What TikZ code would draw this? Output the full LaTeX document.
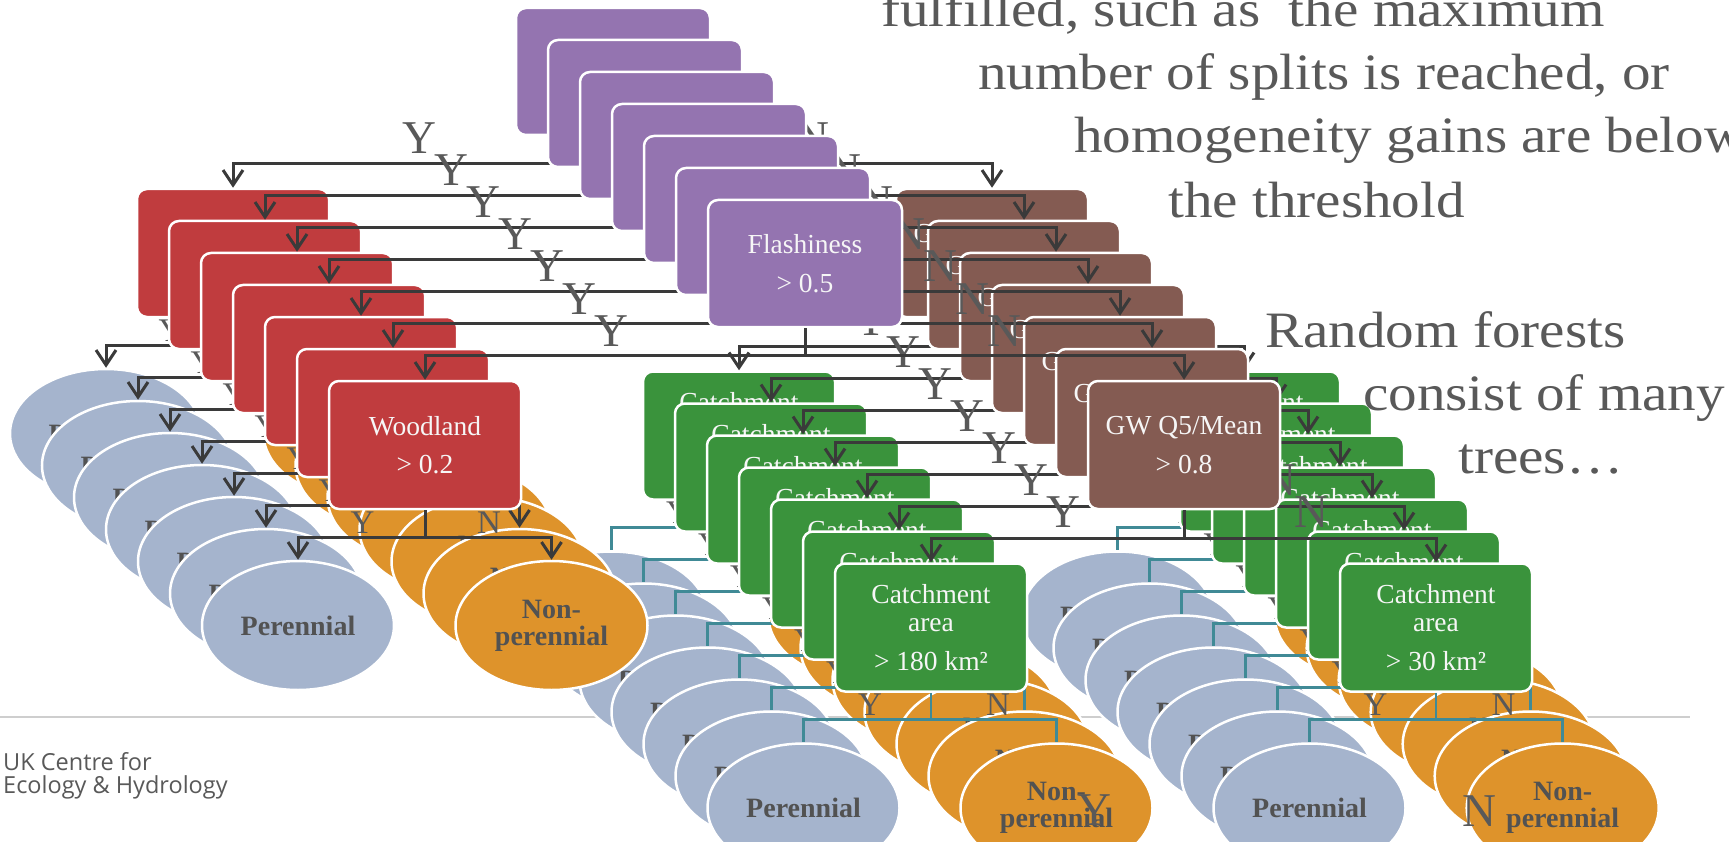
\documentclass[tikz,border=0pt]{standalone}
\usepackage{fontspec}
\setmainfont{Liberation Serif}
\newfontfamily\bigserif[FakeStretch=1.12]{Liberation Serif}
\newfontfamily\logofont{Open Sans}
\usetikzlibrary{arrows.meta,shapes.geometric}
\definecolor{cpurple}{RGB}{148,116,176}
\definecolor{cred}{RGB}{192,60,62}
\definecolor{cbrown}{RGB}{132,91,82}
\definecolor{cgreen}{RGB}{58,147,60}
\definecolor{cblue}{RGB}{165,180,205}
\definecolor{corange}{RGB}{222,147,43}
\definecolor{cdark}{RGB}{82,82,82}
\definecolor{cline}{RGB}{58,58,58}
\definecolor{cteal}{RGB}{64,138,150}
\definecolor{clabel}{RGB}{89,89,89}
\definecolor{cfoot}{RGB}{206,206,206}
\definecolor{cboxtext}{RGB}{246,246,246}
\tikzset{
  decbox/.style={rectangle, rounded corners=10pt, draw=white, line width=2.5pt,
    minimum width=192pt, minimum height=128pt, inner sep=0pt, text=cboxtext,
    align=center, font=\fontsize{27.5}{38.5}\selectfont},
  leaf/.style={ellipse, draw=white, line width=2.5pt, minimum width=192pt,
    minimum height=129pt, inner sep=0pt, text=cdark, align=center,
    font=\fontsize{28}{27}\selectfont\bfseries},
  conn/.style={draw=cline, line width=3pt},
  arr/.style={conn, -{Straight Barb[length=15pt,width=20pt]}},
  tconn/.style={draw=cteal, line width=2.5pt},
  biglab/.style={anchor=base, text=clabel, font=\fontsize{47}{47}\selectfont, inner sep=0pt},
  smlab/.style={anchor=base, text=clabel, font=\fontsize{33}{33}\selectfont, inner sep=0pt},
  rtext/.style={anchor=base west, text=clabel, font=\bigserif\fontsize{51}{51}\selectfont, inner sep=0pt},
  logo/.style={anchor=base west, text=clabel, font=\logofont\fontsize{23.5}{23.5}\selectfont, inner sep=0pt},
}
\begin{document}
\begin{tikzpicture}[x=1pt,y=-1pt]
\useasboundingbox (0,0) rectangle (1729,842);
\clip (0,0) rectangle (1729,842);
\fill[white] (0,0) rectangle (1729,842);
% footer line and logo
\coordinate (fl) at (0,717);
\coordinate (fr) at (1690,717);
\draw[cfoot, line width=2.5pt] (fl) -- (fr);
\node[logo] (logo1) at (3,770) {UK Centre for};
\node[logo] (logo2) at (3,793) {Ecology \& Hydrology};
% seven stacked trees
\foreach \k in {0,...,6}{
 \begin{scope}[shift={({-32*(6-\k)},{-32*(6-\k)})}]
  \node[decbox, fill=cpurple, minimum width=194pt, minimum height=127pt] (p\k) at (805,263.5) {Flashiness\\> 0.5};
  \node[decbox, fill=cred] (r\k) at (425,445) {Woodland\\> 0.2};
  \node[decbox, fill=cbrown] (b\k) at (1184,445) {GW Q5/Mean\\> 0.8};
  \node[leaf, fill=cblue] (rl\k) at (298,625.5) {Perennial};
  \node[leaf, fill=corange] (rr\k) at (551.5,625.5) {Non-\\perennial};
  \node[decbox, fill=cgreen, font=\fontsize{27.5}{28.5}\selectfont] (g\k) at (931,627.5) {Catchment\\area\\[10pt]> 180 km²};
  \node[decbox, fill=cgreen, font=\fontsize{27.5}{28.5}\selectfont] (h\k) at (1436,627.5) {Catchment\\area\\[10pt]> 30 km²};
  \node[leaf, fill=cblue] (gl\k) at (803.5,808) {Perennial};
  \node[leaf, fill=corange] (gr\k) at (1056.5,808) {Non-\\perennial};
  \node[leaf, fill=cblue] (hl\k) at (1309.5,808) {Perennial};
  \node[leaf, fill=corange] (hr\k) at (1562.7,808) {Non-\\perennial};
  % connectors
  \draw[conn] (p\k.south) -- ([yshift=-27pt]p\k.south) coordinate (pj\k);
  \draw[arr] (pj\k) -| (r\k.north);
  \draw[arr] (pj\k) -| (b\k.north);
  \draw[conn] (r\k.south) -- ([yshift=-27pt]r\k.south) coordinate (rj\k);
  \draw[arr] (rj\k) -| (rl\k.north);
  \draw[arr] (rj\k) -| (rr\k.north);
  \draw[conn] (b\k.south) -- ([yshift=-28pt]b\k.south) coordinate (bj\k);
  \draw[arr] (bj\k) -| (g\k.north);
  \draw[arr] (bj\k) -| (h\k.north);
  \draw[tconn] (g\k.south) -- ([yshift=-26.5pt]g\k.south) coordinate (gj\k);
  \draw[tconn] (gj\k) -| (gl\k.north);
  \draw[tconn] (gj\k) -| (gr\k.north);
  \draw[tconn] (h\k.south) -- ([yshift=-26.5pt]h\k.south) coordinate (hj\k);
  \draw[tconn] (hj\k) -| (hl\k.north);
  \draw[tconn] (hj\k) -| (hr\k.north);
  % branch labels
  \node[biglab] (py\k) at (611,346) {Y};
  \node[biglab] (pn\k) at (1004,346) {N};
  \node[smlab] (ry\k) at (362.5,533) {Y};
  \node[smlab] (rn\k) at (489,533) {N};
  \node[biglab] (by\k) at (1063,527) {Y};
  \node[biglab] (bn\k) at (1311,527) {N};
  \node[smlab] (gy\k) at (870,715) {Y};
  \node[smlab] (gn\k) at (998,715) {N};
  \node[smlab] (hy\k) at (1375.6,715) {Y};
  \node[smlab] (hn\k) at (1503.5,715) {N};
 \end{scope}
}
% stray labels in front
\node[biglab] (xy) at (1094,825) {Y};
\node[biglab] (xn) at (1479,826) {N};
% right-hand text
\node[rtext] (t1) at (881,27) {fulfilled, such as\ \ the maximum};
\node[rtext] (t2) at (978,90) {number of splits is reached, or};
\node[rtext] (t3) at (1074,153) {homogeneity gains are below};
\node[rtext] (t4) at (1168,218) {the threshold};
\node[rtext] (t5) at (1265,347) {Random forests};
\node[rtext] (t6) at (1363,410) {consist of many};
\node[rtext] (t7) at (1458,473) {trees…};
\end{tikzpicture}
\end{document}
